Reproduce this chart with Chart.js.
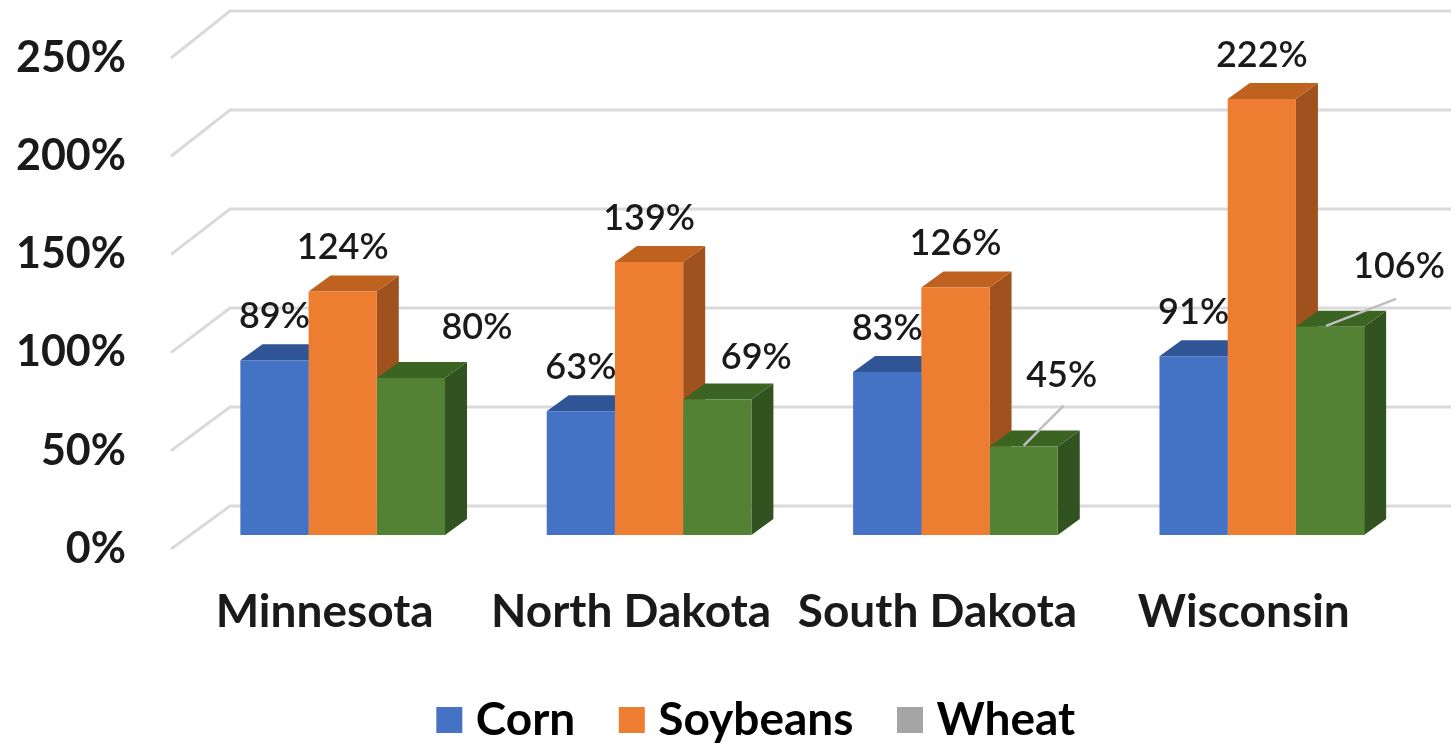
<!DOCTYPE html>
<html>
<head>
<meta charset="utf-8">
<title>Crop yields by state</title>
<style>
  html, body { margin: 0; padding: 0; background: #fff; overflow: hidden; }
  #wrap { width: 1451px; height: 743px; }
  canvas { filter: blur(0.6px); }
</style>
<script src="https://cdn.jsdelivr.net/npm/chart.js@4/dist/chart.umd.min.js"></script>
</head>
<body>
<div id="wrap"><canvas id="chart"></canvas></div>
<script>
/* ---------- data ---------- */
const states = ['Minnesota', 'North Dakota', 'South Dakota', 'Wisconsin'];
const corn = [89, 63, 83, 91];
const soybeans = [124, 139, 126, 222];
const wheat = [80, 69, 45, 106];
const seriesNames = ['Corn', 'Soybeans', 'Wheat'];

/* ---------- look ---------- */
const FONT = 'Lato, "Noto Sans", sans-serif';
const frontColors = ['#4472c4', '#ed7d31', '#548235'];
const topColors = ['#2f5597', '#c0621f', '#3b6423'];
const sideColors = ['#2f5597', '#a0521e', '#325220'];
const legendColors = ['#4472c4', '#ed7d31', '#a5a5a5'];
const DEPTH_X = 22, DEPTH_Y = 16;

// the wheat labels sit away from their bars, offsets from the bar centre/top
const wheatLabelDx = [66, 39, 38, 69];
const wheatLabelDy = [-50, -42, -71, -60];
const leaders = { 2: [[0, -1], [40, -41]], 3: [[-4, -1], [66, -28]] };

const depthPlugin = {
  id: 'depth',
  afterLayout(chart) {
    // the legend is off-centre in the original
    chart.legend.left += 49;
    chart.legend.right += 49;
    chart.legend.top += 10;
    chart.legend.bottom += 10;
  },
  beforeDatasetsDraw(chart) {
    const { ctx, scales: { y } } = chart;

    // floor and wall gridlines
    ctx.save();
    ctx.strokeStyle = '#dadada';
    ctx.lineWidth = 3;
    y.ticks.forEach(t => {
      const py = y.getPixelForValue(t.value);
      const backY = py - 29 - t.value * 0.016;
      ctx.beginPath();
      ctx.moveTo(171, py + 14);
      ctx.lineTo(230, backY);
      ctx.lineTo(1451, backY);
      ctx.stroke();
    });

    // top and side faces, series by series so the next bar covers the last one
    chart.data.labels.forEach((_, j) => {
      chart.data.datasets.forEach((ds, i) => {
        const bar = chart.getDatasetMeta(i).data[j];
        const l = bar.x - bar.width / 2, r = bar.x + bar.width / 2;
        ctx.fillStyle = sideColors[i];
        ctx.beginPath();
        ctx.moveTo(r, bar.y);
        ctx.lineTo(r + DEPTH_X, bar.y - DEPTH_Y);
        ctx.lineTo(r + DEPTH_X, bar.base - DEPTH_Y);
        ctx.lineTo(r, bar.base);
        ctx.closePath();
        ctx.fill();
        ctx.fillStyle = topColors[i];
        ctx.beginPath();
        ctx.moveTo(l, bar.y);
        ctx.lineTo(l + DEPTH_X, bar.y - DEPTH_Y);
        ctx.lineTo(r + DEPTH_X, bar.y - DEPTH_Y);
        ctx.lineTo(r, bar.y);
        ctx.closePath();
        ctx.fill();
      });
    });
    ctx.restore();
  },
  afterDatasetsDraw(chart) {
    const { ctx } = chart;
    ctx.save();

    // leader lines for the two labels that drifted
    const wheatBars = chart.getDatasetMeta(2).data;
    ctx.strokeStyle = '#bfbfbf';
    ctx.lineWidth = 2.5;
    Object.keys(leaders).forEach(j => {
      const bar = wheatBars[j];
      const [a, b] = leaders[j];
      ctx.beginPath();
      ctx.moveTo(bar.x + a[0], bar.y + a[1]);
      ctx.lineTo(bar.x + b[0], bar.y + b[1]);
      ctx.stroke();
    });

    ctx.fillStyle = '#1a1a1a';
    ctx.font = '600 36px ' + FONT;
    ctx.textAlign = 'center';
    ctx.textBaseline = 'middle';
    chart.data.datasets.forEach((ds, i) => {
      chart.getDatasetMeta(i).data.forEach((bar, j) => {
        const dx = i === 2 ? wheatLabelDx[j] : 0;
        const dy = i === 2 ? wheatLabelDy[j] : -44;
        ctx.fillText(ds.data[j] + '%', bar.x + dx, bar.y + dy);
      });
    });
    ctx.restore();
  }
};

new Chart(document.getElementById('chart'), {
  type: 'bar',
  data: {
    labels: states,
    datasets: [corn, soybeans, wheat].map((values, i) => ({
      label: seriesNames[i],
      data: values,
      backgroundColor: frontColors[i],
      borderWidth: 0,
      categoryPercentage: 0.668,
      barPercentage: 1
    }))
  },
  options: {
    responsive: true,
    maintainAspectRatio: false,
    animation: false,
    layout: { padding: { left: 8, right: 36, top: 44, bottom: 0 } },
    plugins: {
      tooltip: { enabled: false },
      legend: {
        position: 'bottom',
        labels: {
          color: '#1a1a1a',
          font: { family: FONT, size: 46, weight: '700' },
          usePointStyle: true,
          boxWidth: 7,
          boxHeight: 26,
          padding: 53,
          generateLabels: chart => chart.data.datasets.map((ds, i) => ({
            text: ds.label,
            fillStyle: legendColors[i],
            strokeStyle: legendColors[i],
            lineWidth: 0,
            pointStyle: 'rect',
            datasetIndex: i
          }))
        }
      }
    },
    scales: {
      x: {
        grid: { display: false, drawTicks: false },
        border: { display: false },
        afterFit: s => { s.height = 99; },
        ticks: {
          color: '#1a1a1a',
          font: { family: FONT, size: 46, weight: '700' },
          autoSkip: false,
          maxRotation: 0,
          labelOffset: -18,
          padding: 50
        }
      },
      y: {
        min: 0,
        max: 250,
        grid: { display: false, drawTicks: false },
        border: { display: false },
        afterFit: s => { s.width = 181.5; s.paddingTop = 0; s.paddingBottom = 0; },
        ticks: {
          stepSize: 50,
          color: '#1a1a1a',
          font: { family: FONT, size: 43, weight: '700' },
          padding: 63.5,
          labelOffset: 14,
          callback: v => v + '%'
        }
      }
    }
  },
  plugins: [depthPlugin]
});
</script>
</body>
</html>
